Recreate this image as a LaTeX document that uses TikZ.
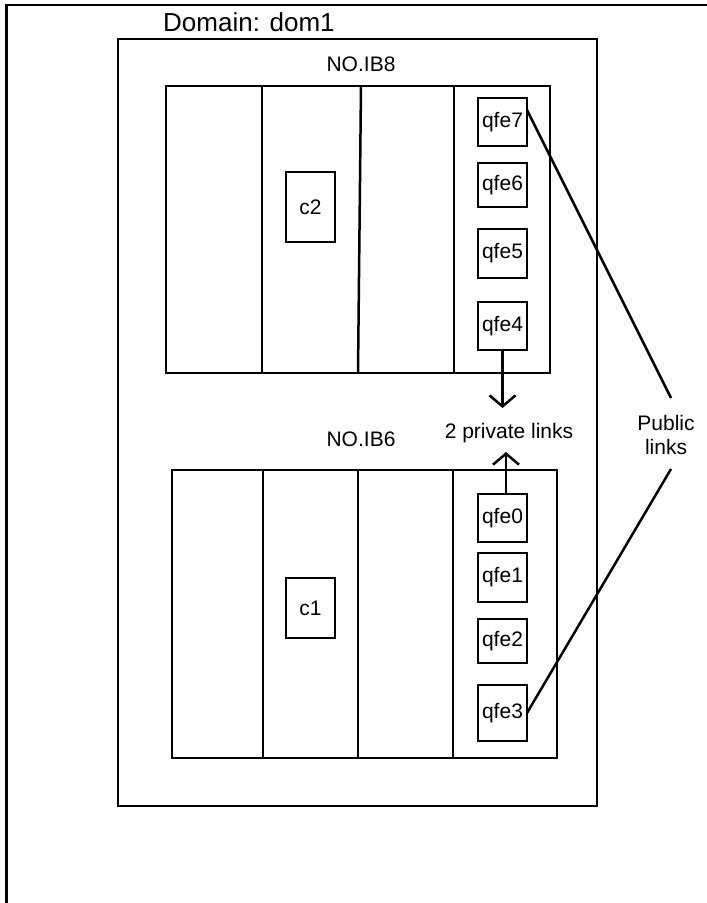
\documentclass[tikz,border=0pt]{standalone}
\usepackage{fontspec}
\setmainfont{Liberation Sans}
\usetikzlibrary{arrows.meta,calc}
\begin{document}
\begin{tikzpicture}[x=1pt,y=-1pt,
  box/.style={draw, line width=2.5pt, inner sep=0pt, outer sep=0pt, anchor=north west, font=\fontsize{21}{24}\selectfont},
  lbl/.style={inner sep=0pt, font=\fontsize{21}{24}\selectfont},
  link/.style={line width=2.5pt},
  arr/.style={line width=2.5pt, -{Straight Barb[length=11pt,width=26pt,line width=2.5pt]}}]
\useasboundingbox (0,0) rectangle (707,903);
\fill[white] (0,0) rectangle (707,903);
\begin{scope}
  \clip (0,0) rectangle (707,903);
  \node[box, minimum width=760pt, minimum height=960pt] (outer) at (6.7,5) {};
\end{scope}
\node[lbl, font=\fontsize{26}{30}\selectfont, anchor=base west] (domlbl) at (163,31) {Domain: dom1};
\node[box, minimum width=479pt, minimum height=767pt] (dom) at (118,39) {};
\node[lbl, anchor=base] (ib8lbl) at (361,71) {NO.IB8};
\node[lbl, anchor=base] (ib6lbl) at (361,446) {NO.IB6};
% chassis
\node[box, minimum width=384pt, minimum height=287pt] (ib8) at (166,86) {};
\node[box, minimum width=385pt, minimum height=288pt] (ib6) at (172,470) {};
\draw[link] ($(ib8.north west)+(96,0)$) -- ($(ib8.south west)+(96,0)$);
\draw[link] ($(ib8.north west)+(195,0)$) -- ($(ib8.south west)+(192,0)$);
\draw[link] ($(ib8.north west)+(288,0)$) -- ($(ib8.south west)+(288,0)$);
\draw[link] ($(ib6.north west)+(91,0)$) -- ($(ib6.south west)+(91,0)$);
\draw[link] ($(ib6.north west)+(186,0)$) -- ($(ib6.south west)+(186,0)$);
\draw[link] ($(ib6.north west)+(281,0)$) -- ($(ib6.south west)+(281,0)$);
% cards
\node[box, minimum width=49pt, minimum height=70pt] (c2) at (286,172) {c2};
\node[box, minimum width=49pt, minimum height=60pt] (c1) at (286,578) {c1};
\node[box, minimum width=49pt, minimum height=48pt] (qfe7) at (478,98) {qfe7};
\node[box, minimum width=49pt, minimum height=44pt] (qfe6) at (478,163) {qfe6};
\node[box, minimum width=49pt, minimum height=49pt] (qfe5) at (478,229) {qfe5};
\node[box, minimum width=49pt, minimum height=48pt] (qfe4) at (478,302) {qfe4};
\node[box, minimum width=49pt, minimum height=48pt] (qfe0) at (478,494) {qfe0};
\node[box, minimum width=49pt, minimum height=49pt] (qfe1) at (478,553) {qfe1};
\node[box, minimum width=49pt, minimum height=44pt] (qfe2) at (478,619) {qfe2};
\node[box, minimum width=49pt, minimum height=56pt] (qfe3) at (478,685) {qfe3};
% labels
\node[lbl, anchor=base] (priv) at (509,438) {2 private links};
\node[lbl, align=center] (pub) at (666,434.5) {Public\\links};
% connectors
\coordinate (pt1) at (502.5,408);
\coordinate (pt2) at (506,452);
\coordinate (pub1) at (671,398);
\coordinate (pub2) at (671,469);
\draw[arr] (qfe4.south) -- (pt1);
\draw[arr] ($(qfe0.north)+(3.5,0)$) -- (pt2);
\draw[link] ($(qfe7.north east)+(0,12)$) -- (pub1);
\draw[link] (qfe3.east) -- (pub2);
\end{tikzpicture}
\end{document}
